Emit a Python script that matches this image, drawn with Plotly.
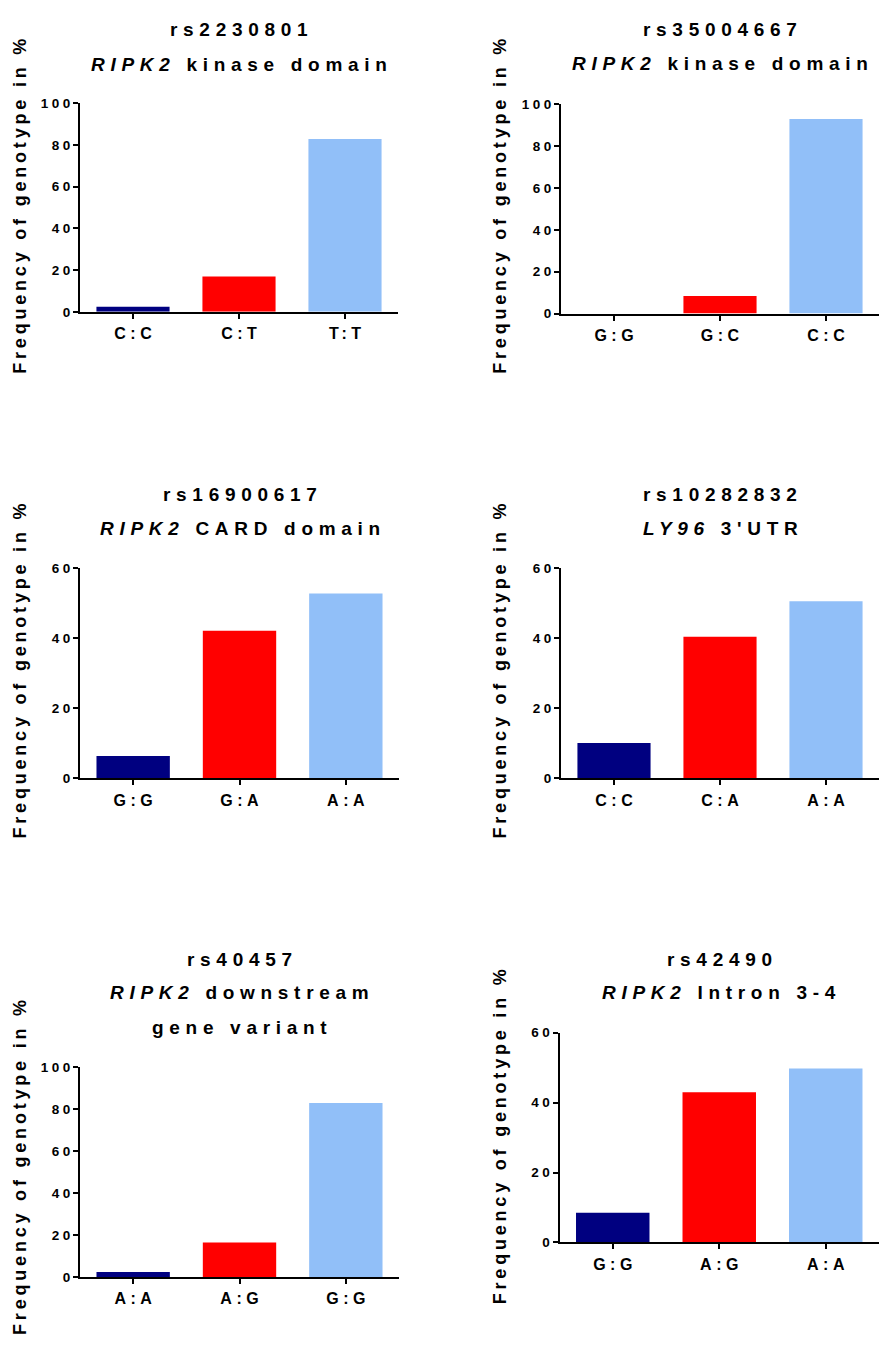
import plotly.graph_objects as go

W, H = 880, 1347
FONT = "Liberation Sans, Arial, sans-serif"

# ---- data: genotype frequencies (%) per SNP ----
snp_ids = ["rs2230801", "rs35004667", "rs16900617", "rs10282832", "rs40457", "rs42490"]
snp_regions = [
    ["<i>RIPK2</i> kinase domain"],
    ["<i>RIPK2</i> kinase domain"],
    ["<i>RIPK2</i> CARD domain"],
    ["<i>LY96</i> 3'UTR"],
    ["<i>RIPK2</i> downstream", "gene variant"],
    ["<i>RIPK2</i> Intron 3-4"],
]

genotypes_rs2230801 = ["C:C", "C:T", "T:T"]
freq_rs2230801 = [2.4, 16.9, 82.9]

genotypes_rs35004667 = ["G:G", "G:C", "C:C"]
freq_rs35004667 = [0.0, 8.4, 92.9]

genotypes_rs16900617 = ["G:G", "G:A", "A:A"]
freq_rs16900617 = [6.4, 42.1, 52.7]

genotypes_rs10282832 = ["C:C", "C:A", "A:A"]
freq_rs10282832 = [10.1, 40.4, 50.5]

genotypes_rs40457 = ["A:A", "A:G", "G:G"]
freq_rs40457 = [2.4, 16.5, 83.0]

genotypes_rs42490 = ["G:G", "A:G", "A:A"]
freq_rs42490 = [8.5, 43.0, 49.8]

y_max = [100, 100, 60, 60, 100, 60]
y_ticks_100 = [0, 20, 40, 60, 80, 100]
y_ticks_60 = [0, 20, 40, 60]

genotype_lists = [genotypes_rs2230801, genotypes_rs35004667, genotypes_rs16900617,
                  genotypes_rs10282832, genotypes_rs40457, genotypes_rs42490]
freq_lists = [freq_rs2230801, freq_rs35004667, freq_rs16900617,
              freq_rs10282832, freq_rs40457, freq_rs42490]

bar_colors = ["#000080", "#FF0000", "#91BFF8"]

# ---- layout of the six panels, in pixels: (left, right, top, bottom) of plot area ----
panel_px = [
    (80, 398, 97.3, 308.3),
    (561, 879, 98.3, 310),
    (80, 399, 567.3, 780),
    (561, 879, 567.3, 780),
    (80, 399, 1072.3, 1284.3),
    (559.5, 879, 1037.3, 1249.3),
]
title_line_y = [
    [23, 58],
    [23, 57],
    [493, 527],
    [493, 527],
    [963, 997, 1032],
    [963, 997],
]
ytitle_pos = [(20, 202), (500, 202), (20, 672), (500, 672), (20, 1174), (500, 1143)]


def spaced(text, px):
    # widen the tracking between glyphs, leaving no trailing gap after the last one
    return f'<span style="letter-spacing:{px}px">{text[:-1]}</span>{text[-1]}'


def px_x(v):
    return v / W


def px_y(v):
    return 1 - v / H


fig = go.Figure()
layout = dict(
    width=W, height=H,
    margin=dict(l=0, r=0, t=0, b=0),
    paper_bgcolor="white", plot_bgcolor="white",
    showlegend=False,
    annotations=[],
)

for i in range(6):
    n = "" if i == 0 else str(i + 1)
    left, right, top, bottom = panel_px[i]
    cats = genotype_lists[i]
    fig.add_trace(go.Bar(
        x=cats, y=freq_lists[i],
        marker=dict(color=bar_colors, line=dict(width=0)),
        width=0.69,
        xaxis="x" + n, yaxis="y" + n,
    ))
    ticks = y_ticks_100 if y_max[i] == 100 else y_ticks_60
    layout["xaxis" + n] = dict(
        domain=[px_x(left), px_x(right)], anchor="y" + n,
        type="category", range=[-0.5, 2.5],
        tickmode="array", tickvals=cats, ticktext=[spaced(c, 4.5) for c in cats],
        ticks="outside", ticklen=5, tickwidth=2, tickcolor="black",
        showline=True, linewidth=2, linecolor="black",
        showgrid=False, zeroline=False, fixedrange=True,
        tickfont=dict(family=FONT, size=16, color="black", weight="bold"),
        ticklabelstandoff=1,
    )
    layout["yaxis" + n] = dict(
        domain=[px_y(bottom), px_y(top)], anchor="x" + n,
        range=[0, y_max[i]],
        tickmode="array", tickvals=ticks, ticktext=[spaced(str(t), 3.5) for t in ticks],
        ticks="outside", ticklen=5, tickwidth=2, tickcolor="black",
        showline=True, linewidth=2, linecolor="black",
        showgrid=False, zeroline=False, fixedrange=True,
        tickfont=dict(family=FONT, size=13.5, color="black", weight="bold"),
    )
    cx = (left + right) / 2
    lines = [snp_ids[i]] + snp_regions[i]
    for text, yy in zip(lines, title_line_y[i]):
        layout["annotations"].append(dict(
            text=spaced(text, 5.7), x=px_x(cx), y=px_y(yy),
            xref="paper", yref="paper", xanchor="center", yanchor="middle",
            showarrow=False,
            font=dict(family=FONT, size=19, color="black", weight="bold"),
        ))
    tx, ty = ytitle_pos[i]
    layout["annotations"].append(dict(
        text=spaced("Frequency of genotype in %", 3.8),
        x=px_x(tx), y=px_y(ty), xref="paper", yref="paper",
        xanchor="center", yanchor="middle", textangle=-90, showarrow=False,
        font=dict(family=FONT, size=18, color="black", weight="bold"),
    ))

fig.update_layout(**layout)
fig.write_html("out.html")
